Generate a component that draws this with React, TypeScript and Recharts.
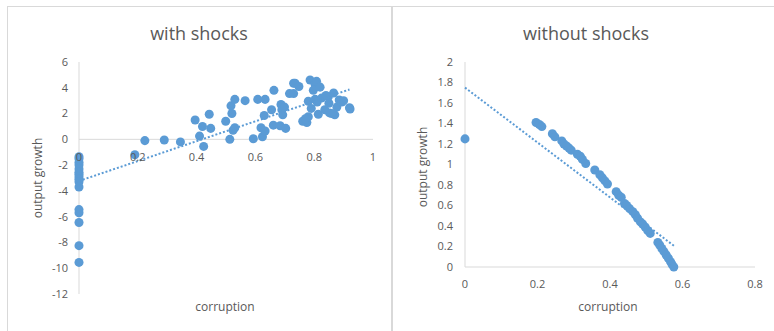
import { ReferenceDot, ReferenceLine, Scatter, ScatterChart, XAxis, YAxis, ZAxis } from "recharts";

const BLUE = "#5B9BD5";
const AXIS = "#D9D9D9";
const TEXT = "#595959";

// corruption vs output growth, economy hit by shocks
const shockCorruption = [
  0, 0, 0, 0, 0, 0, 0, 0, 0, 0, 0, 0, 0, 0, 0, 0,
  0.19, 0.224, 0.29, 0.345, 0.395, 0.42, 0.41, 0.424, 0.443, 0.448,
  0.499, 0.513, 0.517, 0.52, 0.524, 0.53, 0.53, 0.565, 0.593, 0.608,
  0.633, 0.619, 0.624, 0.633, 0.63, 0.663, 0.655, 0.661, 0.687, 0.69,
  0.693, 0.684, 0.703, 0.699, 0.716, 0.73, 0.735, 0.73, 0.748, 0.761,
  0.775, 0.78, 0.78, 0.786, 0.79, 0.803, 0.803, 0.797, 0.814, 0.808,
  0.82, 0.848, 0.852, 0.866, 0.877, 0.885, 0.87, 0.894, 0.92, 0.922,
  0.836, 0.825, 0.85, 0.9, 0.86, 0.81, 0.77, 0.84,
];
const shockGrowth = [
  -1.35, -1.5, -1.8, -2.0, -2.3, -2.55, -2.7, -2.9, -3.1, -3.3, -3.7, -5.45, -5.7, -6.45, -8.25, -9.55,
  -1.2, -0.1, -0.05, -0.2, 1.5, 1.0, 0.25, -0.55, 1.95, 0.85,
  1.4, 0, 2.6, 2.0, 0.7, 0.9, 3.1, 3.0, 0.05, 3.1,
  3.1, 0.9, 0.2, 0.65, 1.85, 3.8, 2.3, 1.1, 2.7, 2.3,
  1.9, 1.05, 0.85, 2.5, 3.55, 4.35, 4.35, 3.55, 4.1, 1.4,
  1.3, 1.75, 2.95, 4.6, 2.4, 3.1, 4.25, 3.8, 1.95, 4.5,
  4.05, 3.3, 2.05, 3.6, 2.5, 3.05, 1.9, 2.9, 2.45, 2.35,
  2.3, 3.2, 2.8, 3.0, 2.0, 2.9, 1.6, 3.4,
];

// corruption vs output growth, no shocks
const calmCorruption = [
  0, 0.196, 0.205, 0.212, 0.241, 0.248, 0.267, 0.273, 0.28, 0.287, 0.293,
  0.31, 0.318, 0.324, 0.333, 0.358, 0.372, 0.379, 0.386, 0.393, 0.417,
  0.424, 0.431, 0.44, 0.446, 0.454, 0.463, 0.47, 0.476, 0.484, 0.49,
  0.497, 0.504, 0.511, 0.532, 0.537, 0.543, 0.549, 0.555, 0.561, 0.567,
  0.571, 0.576,
];
const calmGrowth = [
  1.25, 1.41, 1.39, 1.37, 1.3, 1.27, 1.23, 1.2, 1.18, 1.16, 1.14,
  1.1, 1.08, 1.05, 1.01, 0.946, 0.9, 0.87, 0.84, 0.81, 0.735,
  0.7, 0.68, 0.62, 0.6, 0.57, 0.54, 0.51, 0.475, 0.44, 0.42,
  0.39, 0.355, 0.328, 0.24, 0.215, 0.18, 0.15, 0.117, 0.085, 0.052,
  0.026, 0,
];

// linear trendline end points
const shockTrendX = [0, 0.92];
const shockTrendY = [-3.23, 3.87];
const calmTrendX = [0, 0.577];
const calmTrendY = [1.75, 0.205];

const shockXTicks = [0, 0.2, 0.4, 0.6, 0.8, 1];
const shockYTicks = [-12, -10, -8, -6, -4, -2, 0, 2, 4, 6];
const calmXTicks = [0, 0.2, 0.4, 0.6, 0.8];
const calmYTicks = [0, 0.2, 0.4, 0.6, 0.8, 1, 1.2, 1.4, 1.6, 1.8, 2];

const toPoints = (xs: number[], ys: number[]) => xs.map((x, i) => ({ x, y: ys[i] }));

const tick = { fill: TEXT, fontSize: 11 };
const trendLine = { stroke: BLUE, strokeWidth: 2, strokeDasharray: "2 2" };
const noMarker = () => <g />;

function Title({ text, x, y, size, rotate }: { text: string; x: number; y: number; size: number; rotate?: boolean }) {
  return (
    <div
      style={{
        position: "absolute",
        left: x,
        top: y,
        transform: `translate(-50%, -50%)${rotate ? " rotate(-90deg)" : ""}`,
        whiteSpace: "nowrap",
        fontSize: size,
        color: TEXT,
        lineHeight: 1,
      }}
    >
      {text}
    </div>
  );
}

export default function App() {
  return (
    <div
      style={{
        position: "absolute",
        left: 0,
        top: 0,
        width: 774,
        height: 331,
        background: "#fff",
        fontFamily: "'Open Sans', sans-serif",
        overflow: "hidden",
      }}
    >
      {/* chart frames */}
      <div style={{ position: "absolute", left: 7, top: 6, width: 767, height: 1, background: AXIS }} />
      <div style={{ position: "absolute", left: 7, top: 6, width: 1, height: 325, background: AXIS }} />
      <div style={{ position: "absolute", left: 391, top: 6, width: 2, height: 325, background: AXIS }} />

      <div style={{ position: "absolute", left: 0, top: 0 }}>
        <ScatterChart width={390} height={331} margin={{ top: 62, right: 17, bottom: 37, left: 49 }}>
          <XAxis type="number" dataKey="x" domain={[0, 1]} ticks={shockXTicks} hide />
          <YAxis
            type="number"
            dataKey="y"
            domain={[-12, 6]}
            ticks={shockYTicks}
            width={30}
            axisLine={{ stroke: AXIS }}
            tickLine={false}
            tickSize={0}
            tickMargin={11}
            tick={tick}
            interval={0}
          />
          <ZAxis range={[44, 44]} />
          <ReferenceLine y={0} stroke={AXIS} />
          {shockXTicks.map((t) => (
            <ReferenceDot
              key={t}
              x={t}
              y={0}
              r={0}
              fill="none"
              stroke="none"
              label={{ value: String(t), position: "bottom", offset: 14, fill: TEXT, fontSize: 11 }}
            />
          ))}
          <Scatter data={toPoints(shockCorruption, shockGrowth)} fill={BLUE} isAnimationActive={false} />
          <Scatter
            data={toPoints(shockTrendX, shockTrendY)}
            line={trendLine}
            shape={noMarker}
            isAnimationActive={false}
          />
        </ScatterChart>
      </div>

      <div style={{ position: "absolute", left: 390, top: 0 }}>
        <ScatterChart width={384} height={331} margin={{ top: 62, right: 19, bottom: 34, left: 45 }}>
          <XAxis
            type="number"
            dataKey="x"
            domain={[0, 0.8]}
            ticks={calmXTicks}
            height={30}
            axisLine={{ stroke: AXIS }}
            tickLine={false}
            tickSize={0}
            tickMargin={13}
            tick={tick}
            interval={0}
          />
          <YAxis
            type="number"
            dataKey="y"
            domain={[0, 2]}
            ticks={calmYTicks}
            width={30}
            axisLine={{ stroke: AXIS }}
            tickLine={false}
            tickSize={0}
            tickMargin={12}
            tick={tick}
            interval={0}
          />
          <ZAxis range={[44, 44]} />
          <Scatter data={toPoints(calmCorruption, calmGrowth)} fill={BLUE} isAnimationActive={false} />
          <Scatter
            data={toPoints(calmTrendX, calmTrendY)}
            line={trendLine}
            shape={noMarker}
            isAnimationActive={false}
          />
        </ScatterChart>
      </div>

      <Title text="with shocks" x={199} y={33} size={18} />
      <Title text="without shocks" x={586} y={33} size={18} />
      <Title text="corruption" x={225} y={307} size={12} />
      <Title text="corruption" x={608} y={307} size={12} />
      <Title text="output growth" x={38} y={178} size={12} rotate />
      <Title text="output growth" x={423} y={167} size={12} rotate />
    </div>
  );
}
